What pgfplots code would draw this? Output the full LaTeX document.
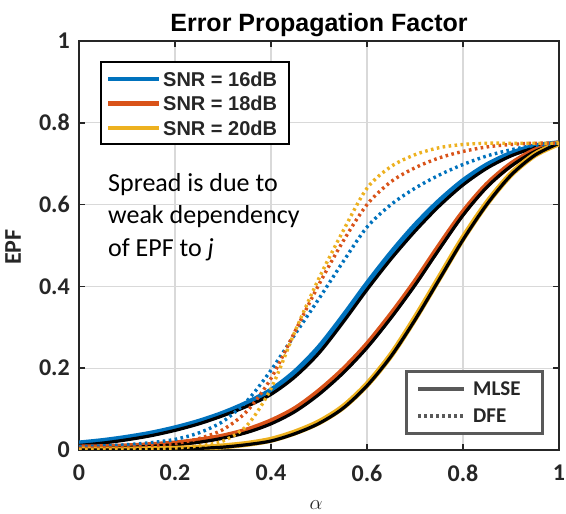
\documentclass[border=0pt]{standalone}
\usepackage{pgfplots}
\pgfplotsset{compat=1.18}
\usepackage{fontspec}
\setmainfont{Carlito}
\newfontfamily\helv{Liberation Sans}

\definecolor{mblue}{rgb}{0,0.447,0.741}
\definecolor{morange}{rgb}{0.85,0.325,0.098}
\definecolor{myellow}{rgb}{0.929,0.694,0.125}
\definecolor{axgray}{HTML}{262626}
\definecolor{leggray}{HTML}{595959}

\tikzset{
  mlse/.style={line width=6bp, smooth, tension=0.5},
  theory/.style={black, line width=3.2bp, smooth, tension=0.5},
  dfe/.style={line width=3.4bp, smooth, tension=0.5, dash pattern=on 2.6bp off 3.4bp},
}

\begin{document}
\begin{tikzpicture}
\useasboundingbox (-79bp,-64bp) rectangle (487bp,450bp);
\begin{axis}[
  at={(0bp,0bp)}, anchor=south west,
  scale only axis, width=480bp, height=409bp,
  xmin=0, xmax=1, ymin=0, ymax=1,
  xtick={0,0.2,0.4,0.6,0.8,1}, ytick={0,0.2,0.4,0.6,0.8,1},
  grid=major,
  major grid style={line width=1.2bp, color=black!15},
  axis line style={line width=2bp, color=axgray},
  tick align=inside, tick pos=both,
  major tick length=6bp,
  tick style={line width=1.6bp, color=axgray},
  /pgf/number format/assume math mode=true,
  ticklabel style={font=\fontsize{24bp}{28bp}\selectfont\bfseries, text=axgray},
  xticklabel style={anchor=center, yshift=-23bp},
  yticklabel style={anchor=east, inner sep=0pt, xshift=-9bp},
]
% MLSE, SNR = 16 dB
\addplot[mlse, mblue] coordinates {
(0,0.016) (0.05,0.022) (0.1,0.030) (0.15,0.040) (0.2,0.053) (0.25,0.069)
(0.3,0.089) (0.35,0.114) (0.4,0.145) (0.45,0.19) (0.5,0.25) (0.55,0.325)
(0.6,0.405) (0.65,0.48) (0.7,0.548) (0.75,0.607) (0.8,0.657) (0.85,0.696)
(0.9,0.724) (0.95,0.742) (1,0.75)};
\addplot[theory] coordinates {
(0,0.011) (0.05,0.017) (0.1,0.025) (0.15,0.035) (0.2,0.048) (0.25,0.064)
(0.3,0.084) (0.35,0.107) (0.4,0.136) (0.45,0.179) (0.5,0.237) (0.55,0.312)
(0.6,0.392) (0.65,0.467) (0.7,0.535) (0.75,0.596) (0.8,0.648) (0.85,0.689)
(0.9,0.719) (0.95,0.739) (1,0.75)};
% MLSE, SNR = 18 dB
\addplot[mlse, morange] coordinates {
(0,0.006) (0.05,0.007) (0.1,0.009) (0.15,0.012) (0.2,0.016) (0.25,0.023)
(0.3,0.033) (0.35,0.048) (0.4,0.07) (0.45,0.1) (0.5,0.143) (0.55,0.195)
(0.6,0.257) (0.65,0.33) (0.7,0.41) (0.75,0.497) (0.8,0.58) (0.85,0.648)
(0.9,0.698) (0.95,0.732) (1,0.75)};
\addplot[theory] coordinates {
(0,0.003) (0.05,0.004) (0.1,0.006) (0.15,0.009) (0.2,0.013) (0.25,0.019)
(0.3,0.029) (0.35,0.043) (0.4,0.064) (0.45,0.094) (0.5,0.136) (0.55,0.188)
(0.6,0.25) (0.65,0.323) (0.7,0.403) (0.75,0.49) (0.8,0.574) (0.85,0.643)
(0.9,0.694) (0.95,0.73) (1,0.75)};
% MLSE, SNR = 20 dB
\addplot[mlse, myellow] coordinates {
(0,0.001) (0.05,0.001) (0.1,0.001) (0.15,0.002) (0.2,0.003) (0.25,0.005)
(0.3,0.009) (0.35,0.015) (0.4,0.025) (0.45,0.043) (0.5,0.068) (0.55,0.105)
(0.6,0.16) (0.65,0.232) (0.7,0.322) (0.75,0.42) (0.8,0.518) (0.85,0.604)
(0.9,0.674) (0.95,0.722) (1,0.75)};
\addplot[theory] coordinates {
(0,0.0) (0.05,0.0) (0.1,0.0) (0.15,0.001) (0.2,0.002) (0.25,0.004)
(0.3,0.007) (0.35,0.013) (0.4,0.022) (0.45,0.04) (0.5,0.065) (0.55,0.102)
(0.6,0.157) (0.65,0.229) (0.7,0.318) (0.75,0.416) (0.8,0.514) (0.85,0.601)
(0.9,0.672) (0.95,0.721) (1,0.75)};
% DFE curves
\addplot[dfe, mblue] coordinates {
(0,0.008) (0.05,0.01) (0.1,0.013) (0.15,0.018) (0.2,0.026) (0.25,0.042)
(0.3,0.07) (0.35,0.12) (0.4,0.195) (0.45,0.283) (0.5,0.37) (0.55,0.46)
(0.6,0.545) (0.65,0.6) (0.7,0.64) (0.75,0.672) (0.8,0.698) (0.85,0.719)
(0.9,0.734) (0.95,0.745) (1,0.75)};
\addplot[dfe, morange] coordinates {
(0,0.004) (0.05,0.005) (0.1,0.006) (0.15,0.01) (0.2,0.016) (0.25,0.028)
(0.3,0.05) (0.35,0.095) (0.4,0.175) (0.45,0.29) (0.5,0.405) (0.55,0.51)
(0.6,0.6) (0.65,0.656) (0.7,0.69) (0.75,0.714) (0.8,0.73) (0.85,0.741)
(0.9,0.747) (0.95,0.75) (1,0.75)};
\addplot[dfe, myellow] coordinates {
(0,0.001) (0.05,0.001) (0.1,0.002) (0.15,0.003) (0.2,0.005) (0.25,0.01)
(0.3,0.022) (0.35,0.06) (0.4,0.15) (0.45,0.29) (0.5,0.42) (0.55,0.535)
(0.6,0.64) (0.65,0.693) (0.7,0.722) (0.75,0.739) (0.8,0.747) (0.85,0.75)
(0.9,0.75) (0.95,0.75) (1,0.75)};
\end{axis}

% title and axis labels
\node[font=\helv\fontsize{25bp}{30bp}\selectfont\bfseries, text=black] at (240bp,425bp) {Error Propagation Factor};
\node[font=\fontsize{24bp}{28bp}\selectfont\bfseries, text=axgray, rotate=90] at (-66bp,203bp) {EPF};
\node[font=\fontsize{21bp}{24bp}\selectfont, text=axgray] at (237bp,-55bp) {$\alpha$};

% SNR legend
\draw[line width=2.5bp, black, fill=white] (22bp,306bp) rectangle (210bp,388bp);
\draw[mblue, line width=4.5bp] (29bp,371bp) -- (80bp,371bp);
\draw[morange, line width=4.5bp] (29bp,346.5bp) -- (80bp,346.5bp);
\draw[myellow, line width=4.5bp] (29bp,322bp) -- (80bp,322bp);
\begin{scope}[every node/.style={anchor=west, inner sep=0pt, font=\helv\fontsize{20bp}{24bp}\selectfont\bfseries, text=axgray}]
\node at (84bp,371bp) {SNR = 16dB};
\node at (84bp,346.5bp) {SNR = 18dB};
\node at (84bp,322bp) {SNR = 20dB};
\end{scope}

% receiver legend
\draw[line width=3bp, leggray, fill=white] (327bp,16bp) rectangle (463bp,78bp);
\draw[leggray, line width=4.5bp] (339bp,61bp) -- (385bp,61bp);
\draw[leggray, line width=4.5bp, dash pattern=on 3bp off 3bp] (339bp,34bp) -- (385bp,34bp);
\begin{scope}[every node/.style={anchor=west, inner sep=0pt, font=\fontsize{21bp}{24bp}\selectfont\bfseries, text=axgray}]
\node at (394bp,61bp) {MLSE};
\node at (394bp,34bp) {DFE};
\end{scope}

% annotation
\begin{scope}[every node/.style={anchor=base west, inner sep=0pt, font=\fontsize{26bp}{32bp}\selectfont, text=black}]
\node at (29bp,258bp) {Spread is due to};
\node at (29bp,226bp) {weak dependency};
\node at (29bp,193bp) {of EPF to \textit{j}};
\end{scope}
\end{tikzpicture}
\end{document}
